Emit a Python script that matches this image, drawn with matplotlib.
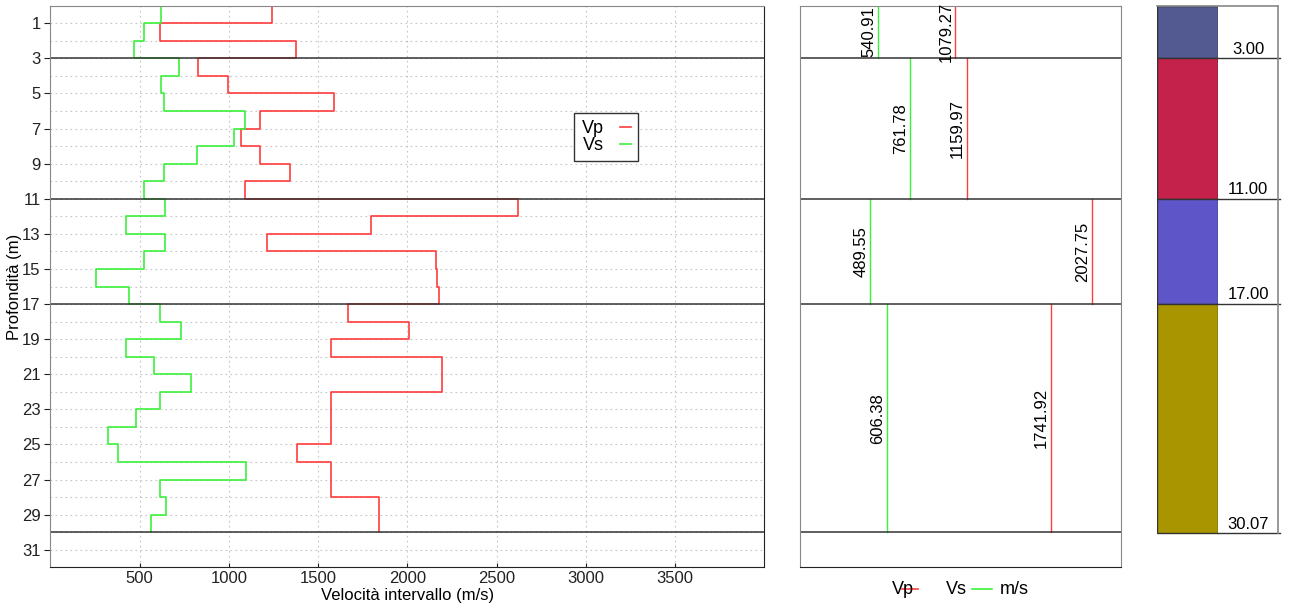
import numpy as np
import matplotlib
matplotlib.use("Agg")
import matplotlib.pyplot as plt
from matplotlib.patches import Rectangle

plt.rcParams['font.family'] = ['Liberation Sans', 'DejaVu Sans']

# ===========================
# Data
# ===========================

# interval velocities, one value per metre from 0 to 30 m
depth_top = np.arange(0, 30)
vs = [620, 525, 469, 719, 620, 639, 1090, 1030, 821, 639,
      525, 645, 423, 645, 525, 254, 441, 615, 732, 423,
      579, 788, 613, 479, 324, 380, 1095, 615, 648, 566]
vp = [1242, 617, 1374, 829, 995, 1587, 1173, 1067, 1173, 1341,
      1090, 2618, 1799, 1216, 2162, 2168, 2179, 1670, 2011, 1570,
      2192, 2195, 1575, 1575, 1575, 1380, 1575, 1575, 1840, 1840]

# layers
layer_bottom = [3.00, 11.00, 17.00, 30.07]
layer_vs = [540.91, 761.78, 489.55, 606.38]
layer_vp = [1079.27, 1159.97, 2027.75, 1741.92]
layer_colors = ["#535a92", "#c4214b", "#5e55c8", "#a89500"]
boundaries = [3, 11, 17, 30]

GREEN = "#3cf03c"
RED = "#ff3c3c"
FS = 12
GRID = dict(color="#c4c4c4", lw=0.8, linestyle=(0, (1.5, 3)))

fig = plt.figure(figsize=(12.94, 6.05), dpi=100)
W, H = 1294, 605


def add_axes_px(x0, y0, x1, y1):
    return fig.add_axes([x0 / W, 1 - y1 / H, (x1 - x0) / W, (y1 - y0) / H])


def depth_steps(values):
    # vertical segment over each 1 m interval, joined by horizontal jumps
    ys = np.column_stack([depth_top, depth_top + 1]).ravel()
    xs = np.repeat(values, 2)
    return xs, ys


# ===========================
# Velocity profiles
# ===========================

ax = add_axes_px(50.3, 5.7, 764.3, 567.3)

x, y = depth_steps(vp)
ax.plot(x, y, color=RED, lw=1.2, label="Vp")
x, y = depth_steps(vs)
ax.plot(x, y, color=GREEN, lw=1.2, label="Vs")

for b in boundaries:
    ax.axhline(b, color="#333333", lw=1.1)

ax.set_xlim(0, 4000)
ax.set_ylim(32, 0)
ax.set_xticks(np.arange(500, 4000, 500))
ax.set_yticks(np.arange(1, 32, 2))
ax.set_yticks(np.arange(0, 33, 1), minor=True)
ax.tick_params(axis="y", which="minor", length=0)
ax.tick_params(axis="y", which="major", length=4, direction="out",
               labelsize=FS, colors="#222222", pad=3)
ax.tick_params(axis="x", length=3, direction="in", labelsize=FS,
               colors="#222222", pad=3)

ax.grid(True, which="both", axis="y", **GRID)
ax.grid(True, which="major", axis="x", **GRID)
ax.set_axisbelow(True)

ax.set_xlabel("Velocità intervallo (m/s)", fontsize=FS, labelpad=1)
ax.set_ylabel("Profondità (m)", fontsize=FS)
ax.yaxis.set_label_coords(-0.040, 0.5)

ax.spines["top"].set_color("#888888")
ax.spines["left"].set_color("#888888")
ax.spines["bottom"].set_color("#222222")
ax.spines["right"].set_color("#222222")

leg = ax.legend(loc="upper left", bbox_to_anchor=(0.734, 0.809),
                borderaxespad=0, markerfirst=False, handlelength=0.6,
                fontsize=FS + 1, fancybox=False, framealpha=1,
                edgecolor="#333333", borderpad=0.4, labelspacing=0.0,
                handletextpad=0.9)
leg.get_frame().set_linewidth(1.0)

# ===========================
# Layer averages
# ===========================

ax2 = add_axes_px(800, 5.7, 1121, 567.3)
ax2.set_xlim(0, max(layer_vp) * 1.1)
ax2.set_ylim(32, 0)
ax2.set_xticks([])
ax2.set_yticks([])

tops = [0] + boundaries[:-1]
for top, bot, s, p in zip(tops, boundaries, layer_vs, layer_vp):
    ax2.plot([s, s], [top, bot], color=GREEN, lw=1.0)
    ax2.plot([p, p], [top, bot], color=RED, lw=1.0)
    mid = (top + bot) / 2
    ax2.text(s - 12, mid, f"{s:.2f}", rotation=90, ha="right",
             va="center", fontsize=FS)
    ax2.text(p - 12, mid, f"{p:.2f}", rotation=90, ha="right",
             va="center", fontsize=FS)

for b in boundaries:
    ax2.axhline(b, color="#333333", lw=1.1)

for side in ["top", "left", "right"]:
    ax2.spines[side].set_color("#888888")
ax2.spines["bottom"].set_color("#222222")

# legend below the averages panel
ax2.text(0.285, -0.04, "Vp", transform=ax2.transAxes, ha="left",
         va="center", fontsize=FS + 1)
ax2.plot([0.317, 0.367], [-0.038, -0.038], transform=ax2.transAxes,
         color=RED, lw=1.2, clip_on=False)
ax2.text(0.455, -0.04, "Vs", transform=ax2.transAxes, ha="left",
         va="center", fontsize=FS + 1)
ax2.plot([0.537, 0.597], [-0.038, -0.038], transform=ax2.transAxes,
         color=GREEN, lw=1.2, clip_on=False)
ax2.text(0.622, -0.04, "m/s", transform=ax2.transAxes, ha="left",
         va="center", fontsize=FS + 1)

# ===========================
# Stratigraphic column
# ===========================

ax3 = add_axes_px(1156.5, 5.7, 1278, 567.3)
ax3.set_xlim(0, 1)
ax3.set_ylim(32, 0)
ax3.axis("off")

split = 0.508
for top, bot, c in zip([0] + layer_bottom[:-1], layer_bottom, layer_colors):
    ax3.add_patch(Rectangle((0, top), split, bot - top, facecolor=c,
                            edgecolor="#333333", lw=1.0))
    ax3.add_patch(Rectangle((split, top), 1 - split, bot - top,
                            facecolor="white", edgecolor="none"))
    ax3.plot([split, 1.02], [bot, bot], color="#333333", lw=1.0,
             clip_on=False)
    ax3.text((split + 1) / 2, bot - 0.1, f"{bot:.2f}", ha="center",
             va="bottom", fontsize=FS)

ax3.plot([0, 1], [0, 0], color="#888888", lw=1.2, clip_on=False)
ax3.plot([1, 1], [0, layer_bottom[-1]], color="#888888", lw=1.2,
         clip_on=False)

fig.savefig("out.png", dpi=100)
